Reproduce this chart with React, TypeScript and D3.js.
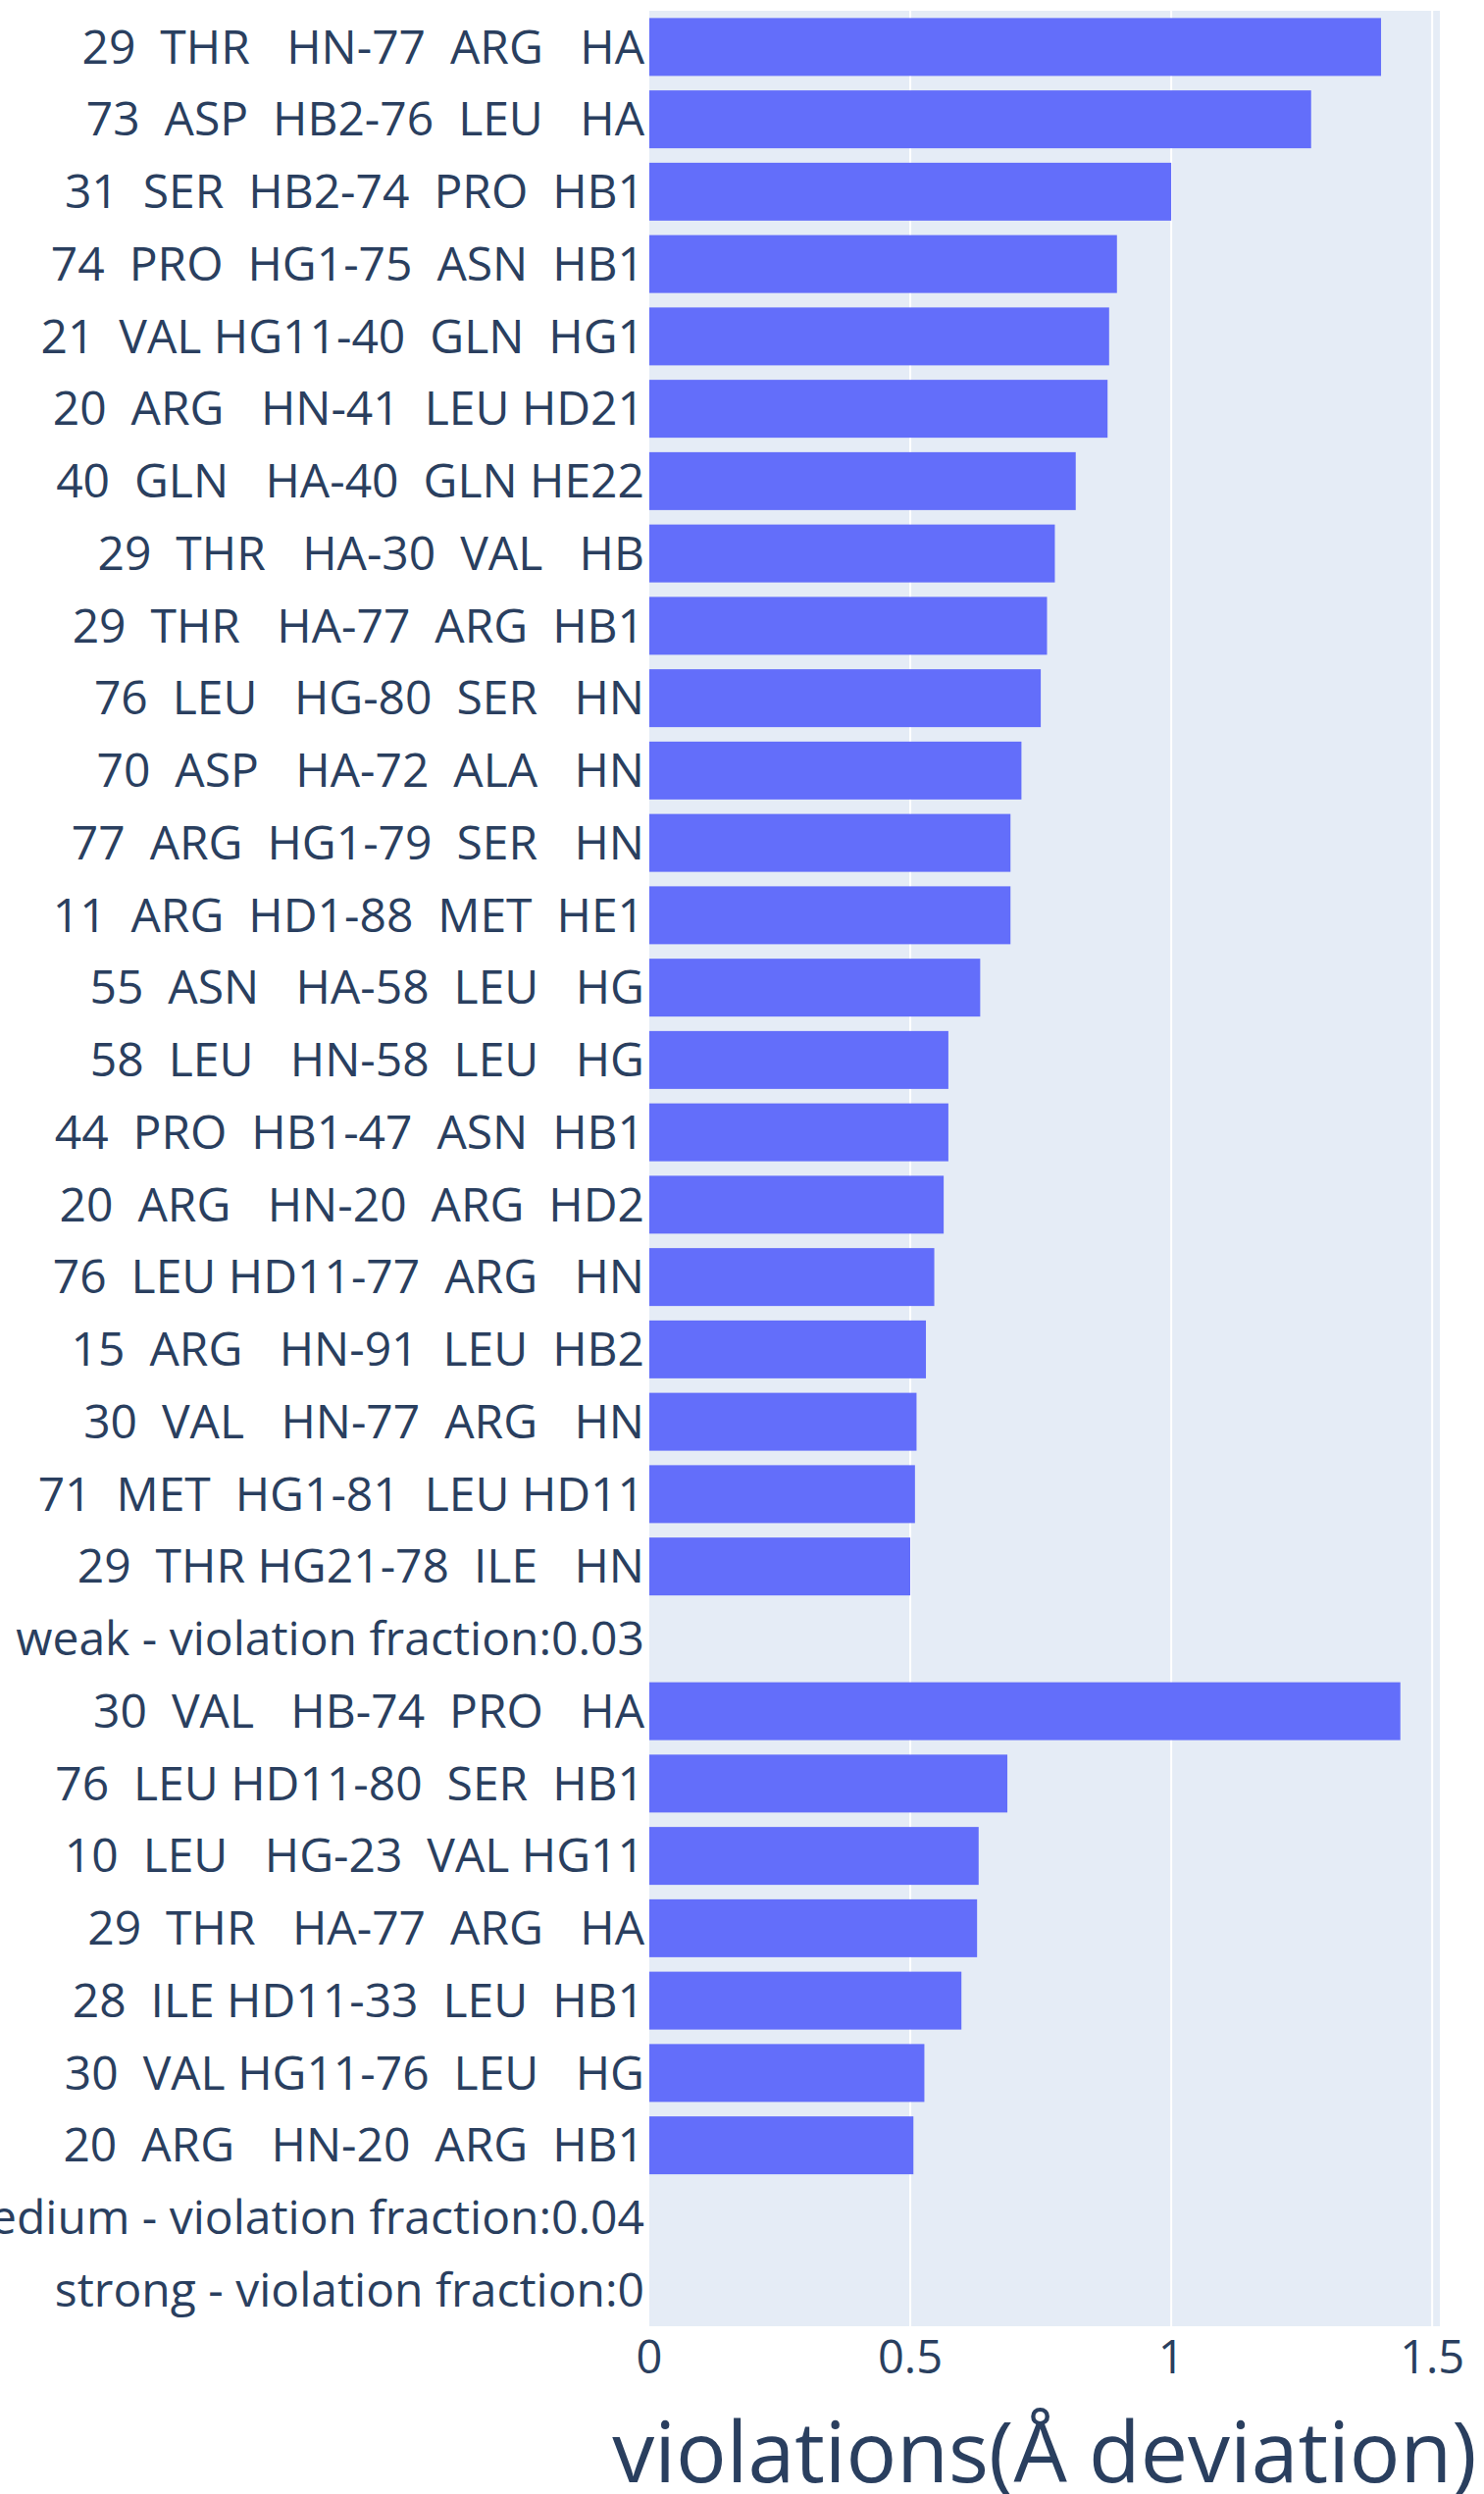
import React, { useEffect, useRef } from "react";
import * as d3 from "d3";

// restraint pairs, listed top to bottom as they appear in the chart
const categories = [
  "29  THR   HN-77  ARG   HA",
  "73  ASP  HB2-76  LEU   HA",
  "31  SER  HB2-74  PRO  HB1",
  "74  PRO  HG1-75  ASN  HB1",
  "21  VAL HG11-40  GLN  HG1",
  "20  ARG   HN-41  LEU HD21",
  "40  GLN   HA-40  GLN HE22",
  "29  THR   HA-30  VAL   HB",
  "29  THR   HA-77  ARG  HB1",
  "76  LEU   HG-80  SER   HN",
  "70  ASP   HA-72  ALA   HN",
  "77  ARG  HG1-79  SER   HN",
  "11  ARG  HD1-88  MET  HE1",
  "55  ASN   HA-58  LEU   HG",
  "58  LEU   HN-58  LEU   HG",
  "44  PRO  HB1-47  ASN  HB1",
  "20  ARG   HN-20  ARG  HD2",
  "76  LEU HD11-77  ARG   HN",
  "15  ARG   HN-91  LEU  HB2",
  "30  VAL   HN-77  ARG   HN",
  "71  MET  HG1-81  LEU HD11",
  "29  THR HG21-78  ILE   HN",
  "weak - violation fraction:0.03",
  "30  VAL   HB-74  PRO   HA",
  "76  LEU HD11-80  SER  HB1",
  "10  LEU   HG-23  VAL HG11",
  "29  THR   HA-77  ARG   HA",
  "28  ILE HD11-33  LEU  HB1",
  "30  VAL HG11-76  LEU   HG",
  "20  ARG   HN-20  ARG  HB1",
  "medium - violation fraction:0.04",
  "strong - violation fraction:0",
];

// violation in Å, null for the group header rows
const violations: (number | null)[] = [
  1.402, 1.268, 1.0, 0.896, 0.881, 0.878, 0.817, 0.777, 0.762, 0.75, 0.713,
  0.692, 0.692, 0.634, 0.573, 0.573, 0.564, 0.546, 0.53, 0.512, 0.509, 0.5,
  null,
  1.439, 0.686, 0.631, 0.628, 0.598, 0.527, 0.506,
  null, null,
];

const xTicks = [0, 0.5, 1, 1.5];
const xTitle = "violations(Å deviation)";

const W = 1513;
const H = 2542;
const margin = { left: 662, right: 45, top: 11, bottom: 171 };
const font = "'Open Sans', 'Noto Sans', sans-serif";
const textColor = "#2a3f5f";

export default function App() {
  const gRef = useRef<SVGGElement>(null);

  const maxV = d3.max(violations, (d) => (d == null ? 0 : d)) as number;
  const x = d3
    .scaleLinear()
    .domain([0, maxV * 1.0526])
    .range([margin.left, W - margin.right]);
  const y = d3
    .scaleBand()
    .domain(categories)
    .range([margin.top, H - margin.bottom])
    .paddingInner(0.2)
    .paddingOuter(0.1);

  useEffect(() => {
    const g = d3.select(gRef.current);
    g.selectAll("*").remove();

    const [x0, x1] = x.range();
    const [y0, y1] = y.range();

    g.append("rect")
      .attr("x", x0)
      .attr("y", y0)
      .attr("width", x1 - x0)
      .attr("height", y1 - y0)
      .attr("fill", "#e5ecf6");

    // vertical gridlines
    g.selectAll(".grid")
      .data(xTicks.filter((t) => t > 0))
      .enter()
      .append("line")
      .attr("x1", (d) => x(d))
      .attr("x2", (d) => x(d))
      .attr("y1", y0)
      .attr("y2", y1)
      .attr("stroke", "#fff")
      .attr("stroke-width", 2);

    // bars
    g.selectAll(".bar")
      .data(categories.map((c, i) => ({ c, v: violations[i] })).filter((d) => d.v != null))
      .enter()
      .append("rect")
      .attr("x", x(0))
      .attr("y", (d) => y(d.c) as number)
      .attr("width", (d) => x(d.v as number) - x(0))
      .attr("height", y.bandwidth())
      .attr("fill", "#636efa");

    // category labels
    g.selectAll(".ylab")
      .data(categories)
      .enter()
      .append("text")
      .attr("x", x0 - 5)
      .attr("y", (d) => (y(d) as number) + y.bandwidth() / 2)
      .attr("dy", "0.35em")
      .attr("text-anchor", "end")
      .attr("xml:space", "preserve")
      .style("white-space", "pre")
      .attr("font-family", font)
      .attr("font-size", 48)
      .attr("fill", textColor)
      .text((d) => d);

    // x tick labels
    g.selectAll(".xlab")
      .data(xTicks)
      .enter()
      .append("text")
      .attr("x", (d) => x(d))
      .attr("y", y1 + 32)
      .attr("dy", "0.35em")
      .attr("text-anchor", "middle")
      .attr("font-family", font)
      .attr("font-size", 47)
      .attr("fill", textColor)
      .text((d) => d3.format("~g")(d));

    g.append("text")
      .attr("x", (x0 + x1) / 2)
      .attr("y", H - 12)
      .attr("text-anchor", "middle")
      .attr("font-family", font)
      .attr("font-size", 86)
      .attr("fill", textColor)
      .text(xTitle);
  }, []);

  return (
    <svg
      width={W}
      height={H}
      style={{ position: "absolute", left: 0, top: 0, background: "#fff" }}
    >
      <g ref={gRef} />
    </svg>
  );
}
